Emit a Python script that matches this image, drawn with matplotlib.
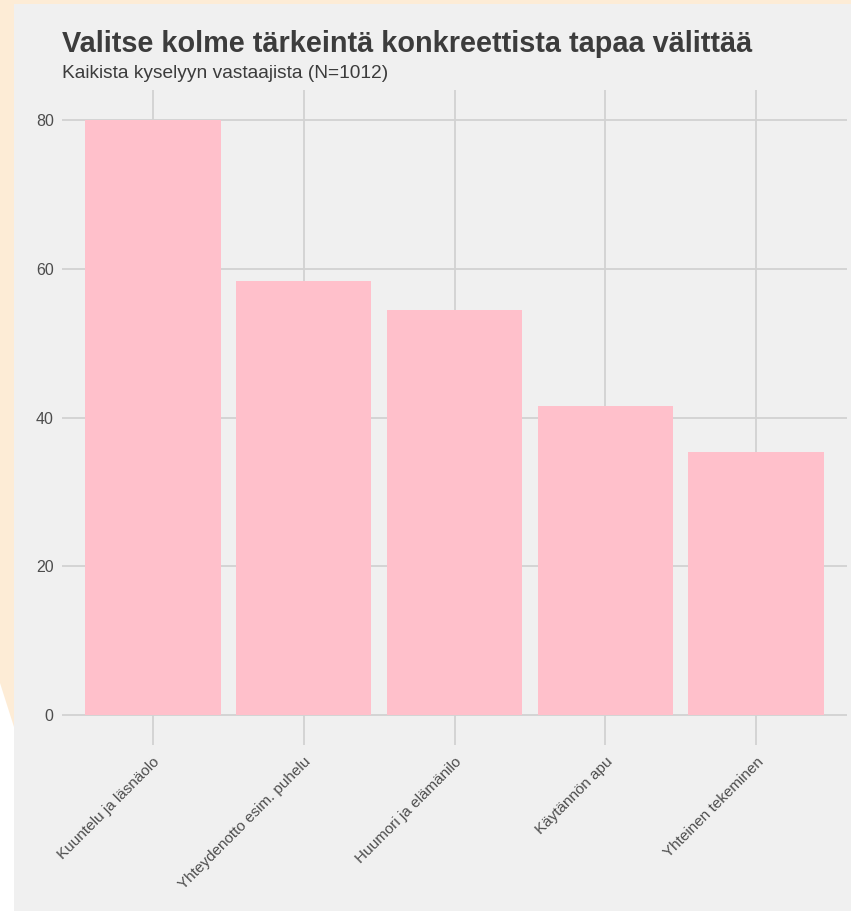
import numpy as np
import matplotlib.pyplot as plt
from matplotlib.patches import Rectangle, Polygon
from matplotlib.transforms import ScaledTranslation

categories = ['Kuuntelu ja läsnäolo', 'Yhteydenotto esim. puhelu', 'Huumori ja elämänilo',
              'Käytännön apu', 'Yhteinen tekeminen']
values = [80.0, 58.3, 54.5, 41.5, 35.4]
yticks = [0, 20, 40, 60, 80]

title = 'Valitse kolme tärkeintä konkreettista tapaa välittää'
subtitle = 'Kaikista kyselyyn vastaajista (N=1012)'

plt.rcParams['font.family'] = ['Liberation Sans', 'DejaVu Sans']

W, H = 851, 911
fig = plt.figure(figsize=(W / 100, H / 100), dpi=100)
fig.patch.set_facecolor('#fdecd6')

# page background pieces (screenshot frame)
fig.patches.append(Polygon([(0, 1 - 683 / H), (14 / W, 1 - 727 / H), (14 / W, 0), (0, 0)],
                           closed=True, transform=fig.transFigure, facecolor='white',
                           edgecolor='none', zorder=-2))
fig.patches.append(Rectangle((14 / W, 0), 1 - 14 / W, 1 - 4 / H, transform=fig.transFigure,
                             facecolor='#f0f0f0', edgecolor='none', zorder=-2))

left, right, top, bottom = 62, 847, 90, 745
ax = fig.add_axes([left / W, 1 - bottom / H, (right - left) / W, (bottom - top) / H])
ax.set_zorder(5)
ax.set_facecolor('#f0f0f0')

x = np.arange(len(categories))
ax.bar(x, values, width=0.9, color='#ffc0cb', zorder=3)

ax.set_xlim(-0.6, len(categories) - 0.4)
ax.set_ylim(-4, 84)
ax.set_yticks(yticks)
ax.set_xticks(x)
ax.set_xticklabels(categories, rotation=45, ha='right', va='top', rotation_mode='anchor',
                   fontsize=11)
shift = ScaledTranslation(7 / 100, 0, fig.dpi_scale_trans)
for lab in ax.get_xticklabels():
    lab.set_transform(lab.get_transform() + shift)
ax.grid(True, color='#d2d2d2', linewidth=1.3, zorder=0)
ax.tick_params(length=0, labelcolor='#4d4d4d')
ax.tick_params(axis='y', pad=6, labelsize=11.5)
ax.tick_params(axis='x', pad=7)
for s in ax.spines.values():
    s.set_visible(False)

fig.text(left / W, 1 - 52 / H, title, fontsize=20.8, fontweight='bold', color='#3c3c3c',
         ha='left', va='baseline', zorder=6)
fig.text(left / W, 1 - 78 / H, subtitle, fontsize=13.8, color='#3c3c3c',
         ha='left', va='baseline', zorder=6)

fig.savefig('out.png', dpi=100, facecolor=fig.get_facecolor())
